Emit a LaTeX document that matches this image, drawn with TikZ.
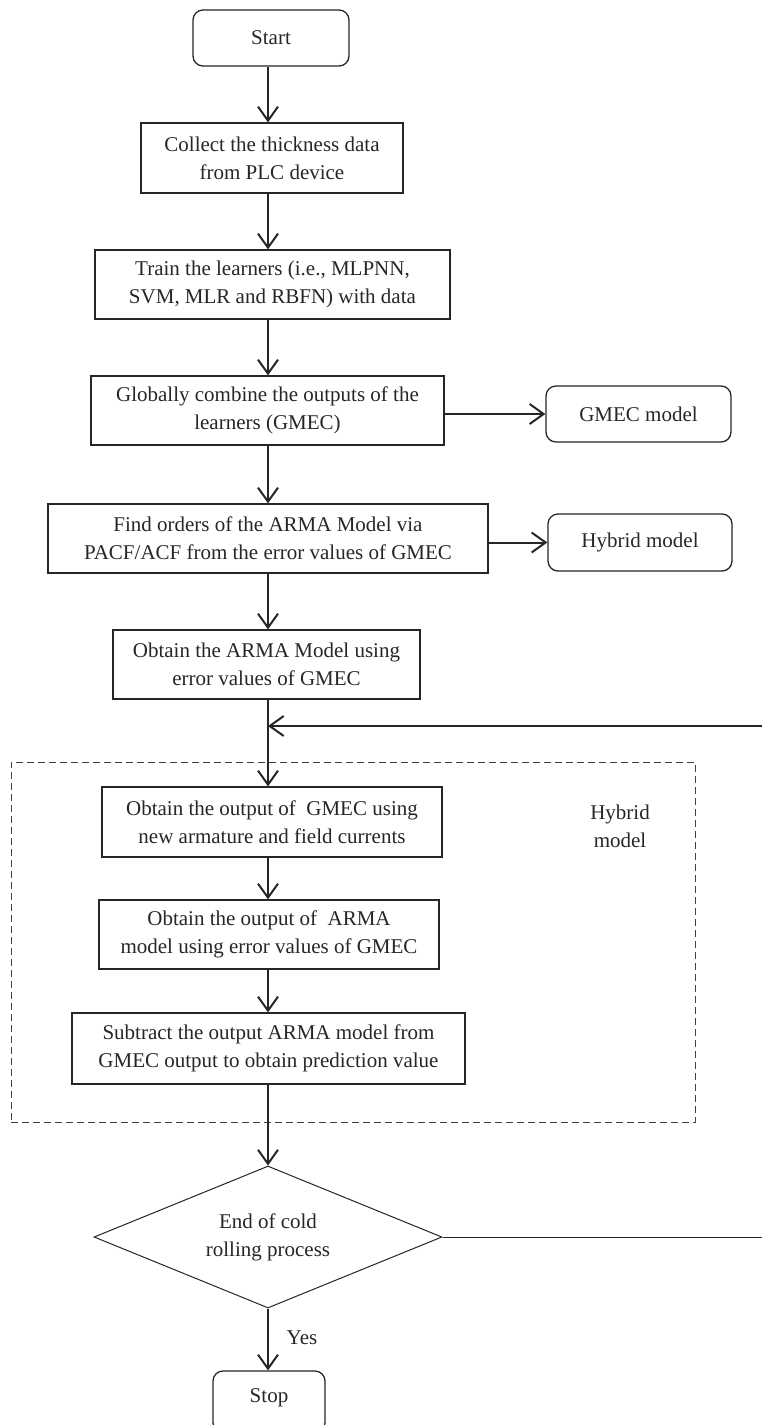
\documentclass[tikz,border=0pt]{standalone}
\usepackage{fontspec}
\setmainfont{Liberation Serif}
\usetikzlibrary{arrows.meta,shapes.geometric}
\begin{document}
\begin{tikzpicture}[x=1pt,y=-1pt,
  every node/.style={font=\fontsize{21}{28}\selectfont, align=center, inner sep=0pt, text=black!85},
  proc/.style={draw=black!85, line width=1.3pt, rectangle},
  term/.style={draw=black!85, line width=1.3pt, rectangle, rounded corners=10pt},
  dec/.style={draw=black!85, line width=1pt, diamond, shape aspect=2.45},
  arr/.style={draw=black!85, line width=2pt, -{Straight Barb[length=14pt,width=20pt,line width=2pt]}},
  thinline/.style={draw=black!85, line width=1pt},
  hybframe/.style={draw=black!75, line width=1pt, dash pattern=on 7pt off 4pt}
]
\useasboundingbox (0,0) rectangle (761,1425);

% vertical axis of the main flow
\coordinate (axis) at (268,0);

\node[term, minimum width=156pt, minimum height=56pt] (start) at (271,38) {Start};
\node[proc, minimum width=262pt, minimum height=70pt] (collect) at (272,158)
  {Collect the thickness data\\from PLC device};
\node[proc, minimum width=355pt, minimum height=69pt] (train) at (272.5,284.5)
  {Train the learners (i.e., MLPNN,\\SVM, MLR and RBFN) with data};
\node[proc, minimum width=353pt, minimum height=69pt] (glob) at (267.5,410.5)
  {Globally combine the outputs of the\\learners (GMEC)};
\node[term, minimum width=185pt, minimum height=56pt] (gmec) at (638.5,414) {GMEC model};
\node[proc, minimum width=440pt, minimum height=69pt] (find) at (268,538.5)
  {Find orders of the ARMA Model via\\PACF/ACF from the error values of GMEC};
\node[term, minimum width=184pt, minimum height=57pt] (hyb) at (640,542.5) {Hybrid model};
\node[proc, minimum width=307pt, minimum height=69pt] (oarma) at (266.5,664.5)
  {Obtain the ARMA Model using\\error values of GMEC};

\node[hybframe, minimum width=684pt, minimum height=360pt] (frame) at (353,942) {};
\node (hlabel) at (620,826) {Hybrid\\model};

\node[proc, minimum width=340pt, minimum height=70pt] (outg) at (272,822)
  {Obtain the output of~ GMEC using\\new armature and field currents};
\node[proc, minimum width=340pt, minimum height=69pt] (outa) at (269,934.5)
  {Obtain the output of~ ARMA\\model using error values of GMEC};
\node[proc, minimum width=393pt, minimum height=71pt] (sub) at (268.5,1048.5)
  {Subtract the output ARMA model from\\GMEC output to obtain prediction value};

\node[dec, minimum width=348pt, minimum height=142pt] (dia) at (268,1237)
  {End of cold\\rolling process};
\node[term, minimum width=112pt, minimum height=62pt] (stop) at (269,1402) {};
\node (stoptext) at (269,1398) {Stop};
\node (yes) at (302,1338) {Yes};

% main flow
\draw[arr] (start.south -| axis) -- (collect.north -| axis);
\draw[arr] (collect.south -| axis) -- (train.north -| axis);
\draw[arr] (train.south -| axis) -- (glob.north -| axis);
\draw[arr] (glob.south -| axis) -- (find.north -| axis);
\draw[arr] (find.south -| axis) -- (oarma.north -| axis);
\draw[arr] (oarma.south -| axis) -- (outg.north -| axis);
\draw[arr] (outg.south -| axis) -- (outa.north -| axis);
\draw[arr] (outa.south -| axis) -- (sub.north -| axis);
\draw[arr] (sub.south -| axis) -- (dia.north);
\draw[arr] (dia.south) -- (stop.north -| dia.south);

% side outputs
\draw[arr] (gmec.west -| glob.east) -- (gmec.west);
\draw[arr] (hyb.west -| find.east) -- (hyb.west);

% feedback loop (its vertical leg lies just beyond the right edge)
\coordinate (fbin) at (268,726);
\coordinate (fbcorner) at (770,726);
\draw[thinline] (dia.east) -- (dia.east -| fbcorner);
\draw[arr] (dia.east -| fbcorner) -- (fbcorner) -- (fbin);
\end{tikzpicture}
\end{document}
